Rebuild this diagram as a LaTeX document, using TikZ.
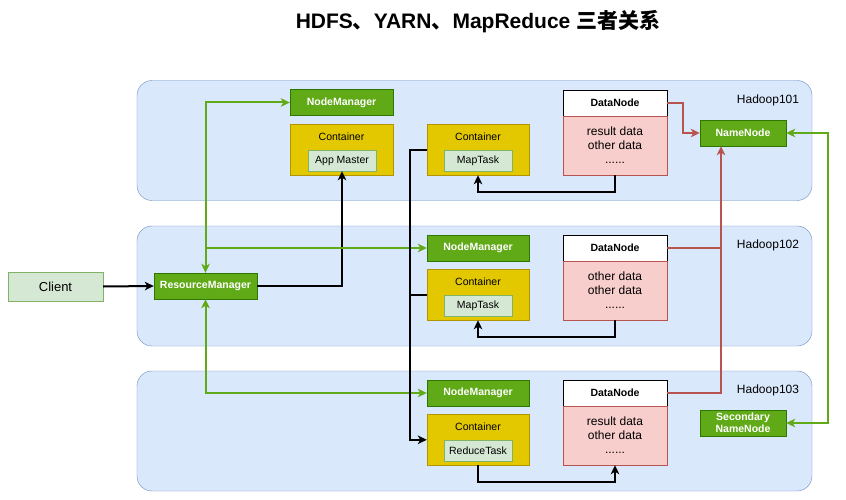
\documentclass[tikz,border=0pt]{standalone}
\usepackage{fontspec}
\setmainfont{Liberation Sans}
\newfontfamily\cjk{Noto Sans CJK SC}
\usetikzlibrary{arrows.meta}
\definecolor{hostfill}{HTML}{DAE8FC}
\definecolor{hostdraw}{HTML}{6C8EBF}
\definecolor{gfill}{HTML}{60A917}
\definecolor{gdraw}{HTML}{2D7600}
\definecolor{yfill}{HTML}{E3C800}
\definecolor{ydraw}{HTML}{B09500}
\definecolor{lgfill}{HTML}{D5E8D4}
\definecolor{lgdraw}{HTML}{82B366}
\definecolor{pfill}{HTML}{F8CECC}
\definecolor{pdraw}{HTML}{B85450}
\tikzset{
  tip/.tip={Stealth[length=9pt,width=8.5pt,inset=2.5pt]},
  host/.style={draw=hostdraw,fill=hostfill,rounded corners=15pt,minimum width=675pt,minimum height=120pt,inner sep=0pt},
  hostlabel/.style={font=\fontsize{12}{14}\selectfont,inner sep=0pt},
  gbox/.style={draw=gdraw,fill=gfill,text=white,font=\fontsize{10.5}{12.5}\selectfont\bfseries,minimum width=103pt,minimum height=26pt,inner sep=0pt,align=center},
  ybox/.style={draw=ydraw,fill=yfill,minimum width=103pt,minimum height=51pt,inner sep=0pt},
  ytext/.style={font=\fontsize{10.5}{12}\selectfont,inner sep=0pt},
  lgbox/.style={draw=lgdraw,fill=lgfill,font=\fontsize{10.5}{12}\selectfont,minimum width=68pt,minimum height=21pt,inner sep=0pt},
  dnhead/.style={draw=black,fill=white,font=\fontsize{10.5}{12}\selectfont\bfseries,minimum width=104pt,minimum height=26pt,inner sep=0pt},
  dnbody/.style={draw=pdraw,fill=pfill,font=\fontsize{12}{14}\selectfont,minimum width=104pt,minimum height=59pt,inner sep=0pt,align=center},
  blk/.style={draw=black,line width=2pt,-tip},
  blkline/.style={draw=black,line width=2pt},
  grn/.style={draw=gfill,line width=2pt,-tip},
  grn2/.style={draw=gfill,line width=2pt,tip-tip},
  red/.style={draw=pdraw,line width=2pt,-tip},
  redline/.style={draw=pdraw,line width=2pt},
}
\begin{document}
\begin{tikzpicture}[x=1pt,y=-1pt]
\useasboundingbox (0,0) rectangle (846,500);
\fill[white] (0,0) rectangle (846,500);
% title
\node[inner sep=0pt,font=\fontsize{21}{25}\selectfont\bfseries] (title) at (478,22) {HDFS{\cjk 、}YARN{\cjk 、}MapReduce {\cjk 三者关系}};
% hosts
\node[host] (h1) at (474.5,140.5) {};
\node[host] (h2) at (474.5,286) {};
\node[host] (h3) at (474.5,431) {};
\node[hostlabel] (h1l) at (768,100) {Hadoop101};
\node[hostlabel] (h2l) at (768,245) {Hadoop102};
\node[hostlabel] (h3l) at (768,390) {Hadoop103};
% client & RM
\node[draw=lgdraw,fill=lgfill,font=\fontsize{13}{15}\selectfont,minimum width=95pt,minimum height=29pt,inner sep=0pt] (client) at (55.5,286.5) {Client};
\node[gbox] (rm) at (205.5,286) {ResourceManager};
% row 1
\node[gbox] (nm1) at (341.5,102.5) {NodeManager};
\node[ybox] (c1) at (341.5,149.5) {};
\node[ytext] (c1t) at (341.5,137) {Container};
\node[lgbox] (am) at (342,160.5) {App Master};
\node[ybox,minimum width=102pt] (c2) at (478,149.5) {};
\node[ytext] (c2t) at (478,137) {Container};
\node[lgbox] (mt1) at (478,160.5) {MapTask};
\node[dnhead] (dn1h) at (615,103) {DataNode};
\node[dnbody] (dn1b) at (615,145.5) {result data\\other data\\......};
\node[gbox,minimum width=86pt] (nn) at (743,133) {NameNode};
% row 2
\node[gbox,minimum width=102pt] (nm2) at (478,248) {NodeManager};
\node[ybox,minimum width=102pt] (c3) at (478,294.5) {};
\node[ytext] (c3t) at (478,282) {Container};
\node[lgbox] (mt2) at (478,305.5) {MapTask};
\node[dnhead] (dn2h) at (615,248) {DataNode};
\node[dnbody] (dn2b) at (615,290.5) {other data\\other data\\......};
% row 3
\node[gbox,minimum width=102pt] (nm3) at (478,393) {NodeManager};
\node[ybox,minimum width=102pt] (c4) at (478,439.5) {};
\node[ytext] (c4t) at (478,427) {Container};
\node[lgbox] (rt) at (478,450.5) {ReduceTask};
\node[dnhead] (dn3h) at (615,393) {DataNode};
\node[dnbody] (dn3b) at (615,435.5) {result data\\other data\\......};
\node[gbox,minimum width=86pt,font=\fontsize{10.5}{12}\selectfont\bfseries] (snn) at (743,423) {Secondary\\NameNode};
% connectors
\draw[blk] (client.east) -- (rm.west);
\draw[blk] (rm.east) -| (am.south);
\draw[grn2] (nm1.west) -| (rm.north);
\draw[grn] (rm.north |- nm2.west) -- (nm2.west);
\draw[grn2] (rm.south) |- (nm3.west);
\coordinate (mx) at ([xshift=-17pt]c2.west |- mt1.north);
\draw[blk] (c2.west |- mt1.north) -- (mx) |- (c4.west |- rt.north);
\draw[blkline] (c3.west |- mt2.north) -- (mx |- mt2.north);
\draw[blk] (dn1b.south) -- ++(0,17) -| (c2.south);
\draw[blk] (dn2b.south) -- ++(0,17) -| (c3.south);
\draw[blk] (c4.south) -- ++(0,17) -| (dn3b.south);
\draw[red] (dn1h.east) -- ++(16,0) |- (nn.west);
\coordinate (rx) at ([xshift=-22pt]nn.south);
\draw[red] (dn3h.east) -| (rx);
\draw[redline] (dn2h.east) -- (rx |- dn2h.east);
\draw[grn2] (nn.east) -- ++(42,0) |- (snn.east);
\end{tikzpicture}
\end{document}
